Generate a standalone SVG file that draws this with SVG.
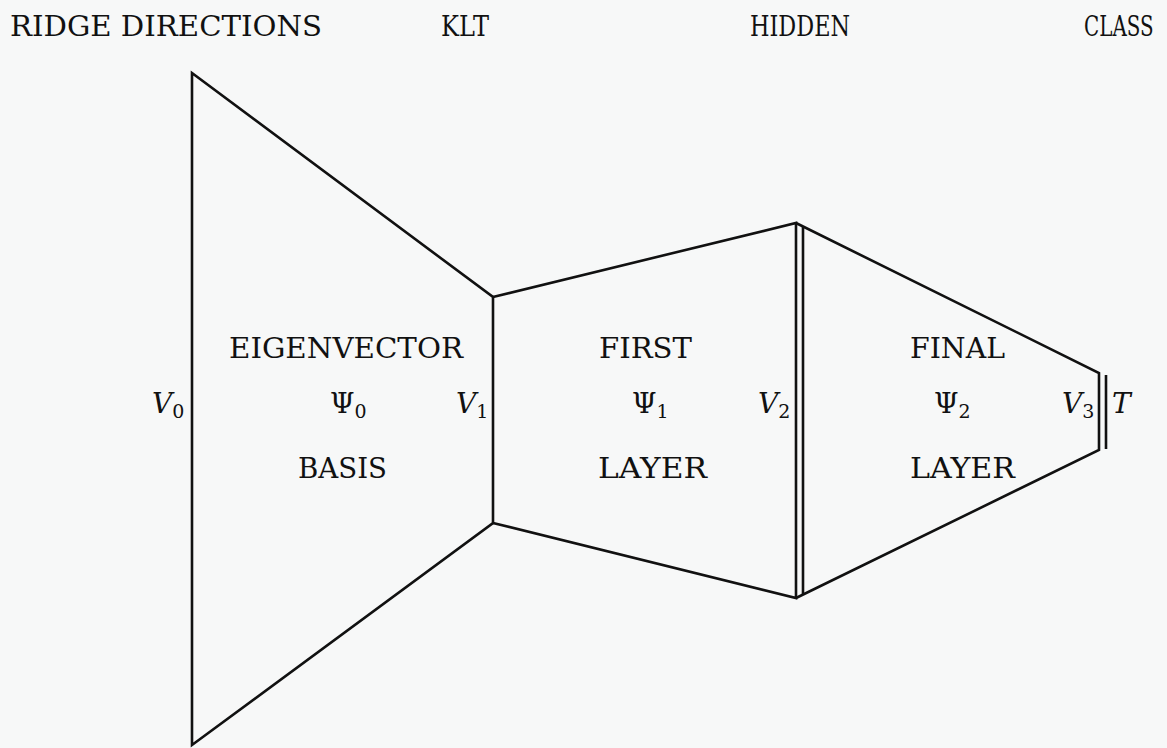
<svg xmlns="http://www.w3.org/2000/svg" width="1167" height="748" viewBox="0 0 1167 748">
<style>
text{font-family:'DejaVu Serif','Liberation Serif',serif;font-size:28px;fill:#111}
.v{font-style:italic}
.s{font-size:19px;font-style:normal}
.ln{fill:none;stroke:#111;stroke-width:2.6;stroke-linejoin:miter}
</style>
<rect width="1167" height="748" fill="#f7f8f8"/>
<g id="headers">
<text x="10" y="36" textLength="312" lengthAdjust="spacingAndGlyphs">RIDGE DIRECTIONS</text>
<text x="441" y="36" textLength="48" lengthAdjust="spacingAndGlyphs">KLT</text>
<text x="750" y="36" textLength="100" lengthAdjust="spacingAndGlyphs">HIDDEN</text>
<text transform="translate(1084,36) scale(0.71,1)">CLASS</text>
</g>
<g id="connectors">
<path class="ln" d="M192,73 L493,297 L493,523 L192,745 Z"/>
<path class="ln" d="M493,297 L796,223 L796,598 L493,523"/>
<path class="ln" d="M796,223 L1099,373 L1099,450 L796,598"/>
<line class="ln" x1="803" y1="226" x2="803" y2="595"/>
<line class="ln" x1="1106" y1="375" x2="1106" y2="449"/>
</g>
<g id="node-eigen">
<text x="229" y="358" textLength="234" lengthAdjust="spacingAndGlyphs">EIGENVECTOR</text>
<text x="330" y="413">Ψ<tspan class="s" dy="5">0</tspan></text>
<text x="298" y="478" textLength="89" lengthAdjust="spacingAndGlyphs">BASIS</text>
</g>
<g id="node-first">
<text x="599" y="358" textLength="93" lengthAdjust="spacingAndGlyphs">FIRST</text>
<text x="632" y="413">Ψ<tspan class="s" dy="5">1</tspan></text>
<text x="598" y="478" textLength="109" lengthAdjust="spacingAndGlyphs">LAYER</text>
</g>
<g id="node-final">
<text x="910" y="358" textLength="95" lengthAdjust="spacingAndGlyphs">FINAL</text>
<text x="934" y="413">Ψ<tspan class="s" dy="5">2</tspan></text>
<text x="910" y="478" textLength="105" lengthAdjust="spacingAndGlyphs">LAYER</text>
</g>
<g id="labels">
<text class="v" x="152" y="413">V<tspan class="s" dy="5">0</tspan></text>
<text class="v" x="456" y="413">V<tspan class="s" dy="5">1</tspan></text>
<text class="v" x="758" y="413">V<tspan class="s" dy="5">2</tspan></text>
<text class="v" x="1062" y="413">V<tspan class="s" dy="5">3</tspan></text>
<text class="v" x="1112" y="413">T</text>
</g>
</svg>
